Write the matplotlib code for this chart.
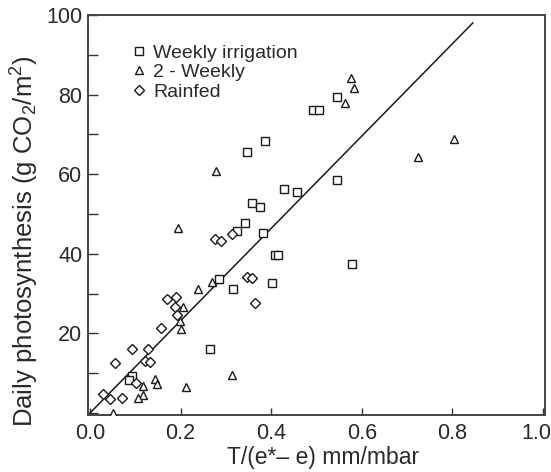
import matplotlib
matplotlib.use("Agg")
import matplotlib.pyplot as plt
import matplotlib.transforms as mtransforms
from matplotlib.ticker import MultipleLocator

plt.rcParams['font.family'] = ['Liberation Sans', 'DejaVu Sans']
plt.rcParams['mathtext.fontset'] = 'custom'
plt.rcParams['mathtext.rm'] = 'Liberation Sans'
plt.rcParams['mathtext.it'] = 'Liberation Sans:italic'

# Weekly irrigation (squares)
weekly_x = [0.546, 0.493, 0.506, 0.386, 0.346, 0.546, 0.428, 0.458, 0.357, 0.375,
            0.342, 0.325, 0.383, 0.578, 0.408, 0.416, 0.401, 0.315, 0.285, 0.265,
            0.092, 0.086]
weekly_y = [79.3, 76.1, 76.1, 68.4, 65.5, 58.5, 56.3, 55.6, 52.7, 51.7,
            47.7, 45.8, 45.2, 37.4, 39.7, 39.7, 32.6, 31.1, 33.7, 16.0,
            9.4, 8.2]

# 2-Weekly (triangles)
biweekly_x = [0.576, 0.583, 0.563, 0.804, 0.723, 0.278, 0.195, 0.269, 0.238, 0.206,
              0.199, 0.201, 0.313, 0.143, 0.147, 0.118, 0.118, 0.107, 0.213, 0.051]
biweekly_y = [84.2, 81.7, 77.8, 68.8, 64.4, 60.8, 46.5, 32.8, 31.1, 26.7,
              23.2, 21.2, 9.5, 8.5, 7.3, 6.7, 4.6, 3.8, 6.6, 0.0]

# Rainfed (diamonds)
rainfed_x = [0.313, 0.276, 0.289, 0.346, 0.358, 0.364, 0.169, 0.190, 0.188, 0.193,
             0.157, 0.092, 0.129, 0.121, 0.132, 0.056, 0.102, 0.029, 0.044, 0.070]
rainfed_y = [45.1, 43.6, 43.2, 34.2, 33.8, 27.7, 28.6, 29.1, 26.6, 24.6,
             21.3, 16.0, 16.2, 13.1, 12.9, 12.6, 7.6, 4.9, 3.4, 3.7]

# Fitted line
line_x = [0.0, 0.845]
line_y = [0.0, 98.0]

x_ticks = [0.0, 0.2, 0.4, 0.6, 0.8, 1.0]
x_ticklabels = ['0.0', '0.2', '0.4', '0.6', '0.8', '1.0']
y_ticks = [20, 40, 60, 80, 100]
y_ticklabels = ['20', '40', '60', '80', '100']

W, H = 551, 472
fig = plt.figure(figsize=(W / 100, H / 100), dpi=100)
ax = fig.add_axes([88 / W, 1 - 415 / H, (545 - 88) / W, (415 - 15) / H])

ink = '#1a1a1a'
txt = '#2a2a2a'
mk = dict(linestyle='none', markerfacecolor='white', markeredgecolor=ink,
          markeredgewidth=1.0)
ax.plot(line_x, line_y, color=ink, lw=1.1, zorder=2)
ax.plot(weekly_x, weekly_y, marker='s', ms=5.2, label='Weekly irrigation', zorder=3, **mk)
ax.plot(biweekly_x, biweekly_y, marker='^', ms=5.6, label='2 - Weekly', zorder=3, **mk)
ax.plot(rainfed_x, rainfed_y, marker='D', ms=4.6, label='Rainfed', zorder=3, **mk)

ax.set_xlim(-0.0044, 1.0044)
ax.set_ylim(-0.5, 100)

ax.set_xticks(x_ticks)
ax.set_xticklabels(x_ticklabels)
ax.set_yticks(y_ticks)
ax.set_yticklabels(y_ticklabels)
ax.yaxis.set_minor_locator(MultipleLocator(10))
ax.tick_params(axis='both', which='both', direction='in', colors='#333333',
               labelcolor=txt, labelsize=15.5, width=1.0)
ax.tick_params(axis='y', which='major', length=7, pad=4)
ax.tick_params(axis='y', which='minor', length=7)
ax.tick_params(axis='x', which='major', length=5, pad=6)
for s in ax.spines.values():
    s.set_color('#444444')
    s.set_linewidth(1.4)

# shift last x tick label a little left so it stays inside the figure
last = ax.get_xticklabels()[-1]
last.set_transform(last.get_transform() +
                   mtransforms.ScaledTranslation(-7 / 100, 0, fig.dpi_scale_trans))

ax.set_xlabel('T/(e*\u2013 e) mm/mbar', fontsize=16.5, color=txt)
ax.xaxis.set_label_coords(0.514, -0.078)
ax.set_ylabel('Daily photosynthesis (g CO$_2$/m$^2$)', fontsize=18.5, color=txt)
ax.yaxis.set_label_coords(-0.103, 0.435)

leg = ax.legend(loc='upper left', bbox_to_anchor=(0.094, 0.9275), frameon=False,
                fontsize=14, handlelength=0.8, handletextpad=0.35,
                labelspacing=0.1, borderaxespad=0, borderpad=0)
for t in leg.get_texts():
    t.set_color(txt)

fig.savefig('out.png', dpi=100)
